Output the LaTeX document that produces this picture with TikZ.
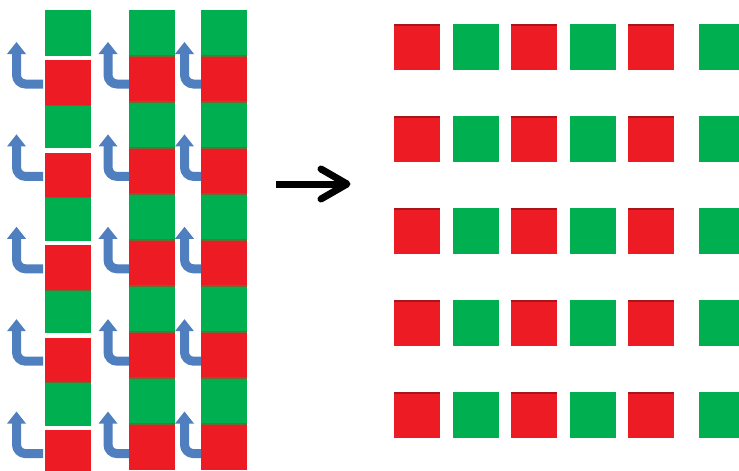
\documentclass[tikz,border=0pt]{standalone}
\definecolor{cellgreen}{HTML}{00B050}
\definecolor{cellred}{HTML}{ED1C24}
\definecolor{rededge}{HTML}{A8151B}
\definecolor{turnblue}{HTML}{4F7FBF}
\definecolor{seam}{HTML}{6B6A32}
\begin{document}
\begin{tikzpicture}[x=1pt,y=-1pt,
  greencell/.style={fill=cellgreen},
  redcell/.style={fill=cellred},
  seamline/.style={draw=seam,line width=1.2pt},
  turnshaft/.style={draw=turnblue,line width=9pt,rounded corners=9pt},
  turnhead/.style={fill=turnblue},
  bigarrow/.style={draw=black,line width=7pt,line cap=round,line join=round}]
\fill[white] (0,0) rectangle (739,471);
\clip (0,0) rectangle (739,471);

% hook arrows beside each column (drawn first so the columns cover their ends)
\foreach \sx/\ex in {16.5/43, 108/131, 184.5/203}{
  \foreach \k in {0,...,4}{
    \pgfmathsetmacro\tipy{42+92.4*\k}
    \pgfmathsetmacro\hooky{84+92.4*\k}
    \path[turnshaft] (\ex,\hooky) -- (\sx,\hooky) -- (\sx,\tipy+10);
    \path[turnhead] (\sx-9.5,\tipy+12) -- (\sx,\tipy) -- (\sx+9.5,\tipy+12) -- cycle;
  }
}

% first column: green/red pairs with a small gap inside each pair
\foreach \k in {0,...,4}{
  \pgfmathsetmacro\redtop{60+92.5*\k}
  \pgfmathsetmacro\greentop{ifthenelse(\k==0,10,60+92.5*\k-47)}
  \path[greencell] (45,\greentop) rectangle (91,\redtop-4.5);
  \path[redcell] (45,\redtop) rectangle (91,\redtop+45.5);
  \ifnum\k<4
    \path[seamline] (45,\redtop+45.5) -- (91,\redtop+45.5);
  \fi
}

% second and third columns: unbroken alternating cells
\foreach \cx in {129,201}{
  \foreach \i in {0,...,9}{
    \pgfmathsetmacro\celltop{10+46*\i}
    \pgfmathtruncatemacro\isodd{mod(\i,2)}
    \ifnum\isodd=0
      \path[greencell] (\cx,\celltop) rectangle (\cx+46,\celltop+46);
    \else
      \path[redcell] (\cx,\celltop) rectangle (\cx+46,\celltop+46);
    \fi
  }
  \foreach \i in {1,...,9}{
    \pgfmathsetmacro\celltop{10+46*\i}
    \path[seamline] (\cx,\celltop) -- (\cx+46,\celltop);
  }
}

% transformation arrow
\path[bigarrow,line cap=butt] (276,184) -- (344,184);
\path[bigarrow] (321,169) -- (347,184) -- (321,199);

% resulting rows of separated cells
\foreach \k in {0,...,4}{
  \pgfmathsetmacro\rowtop{24+92*\k}
  \foreach \cx/\kind in {394/r, 452.5/g, 511/r, 569.5/g, 628/r, 699/g}{
    \if\kind r
      \path[redcell] (\cx,\rowtop) rectangle (\cx+46,\rowtop+46);
      \path[draw=rededge,line width=1.5pt] (\cx,\rowtop+0.75) -- (\cx+46,\rowtop+0.75);
    \else
      \path[greencell] (\cx,\rowtop) rectangle (\cx+46,\rowtop+46);
    \fi
  }
}
\end{tikzpicture}
\end{document}
